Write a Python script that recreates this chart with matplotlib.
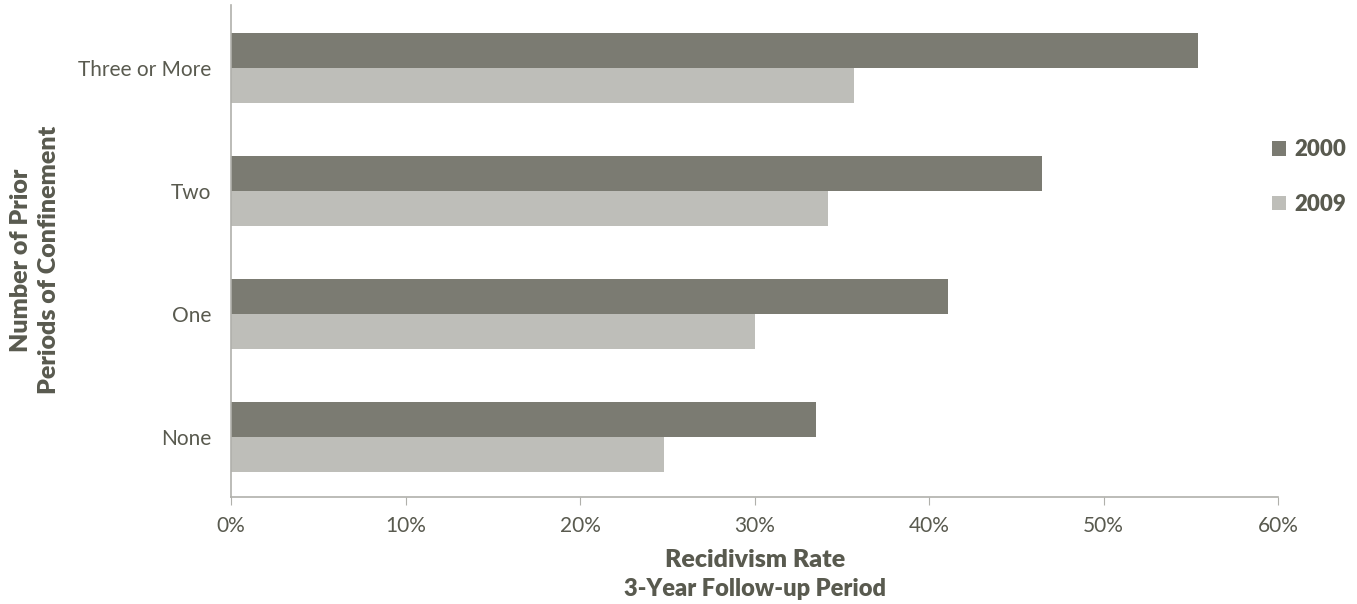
import matplotlib
matplotlib.use("Agg")
import matplotlib.pyplot as plt
import numpy as np
from matplotlib.ticker import FuncFormatter

categories = ["None", "One", "Two", "Three or More"]
series_names = ["2000", "2009"]
values_2000 = [33.5, 41.1, 46.5, 55.4]
values_2009 = [24.8, 30.0, 34.2, 35.7]
xticks = [0, 10, 20, 30, 40, 50, 60]

dark = "#7b7b72"
light = "#bebeb9"
text_color = "#595a4f"

plt.rcParams['font.family'] = ['Lato', 'DejaVu Sans']

fig = plt.figure(figsize=(13.57, 6.04), dpi=100)
ax = fig.add_axes([231/1357, 1 - 497/604, (1278 - 231)/1357, (497 - 5)/604])

y = np.arange(len(categories))
h = 0.285
ax.barh(y + h/2, values_2000, height=h, color=dark, label=series_names[0])
ax.barh(y - h/2, values_2009, height=h, color=light, label=series_names[1])

ax.set_xlim(0, 60)
ax.set_ylim(-0.49, 3.51)
ax.set_xticks(xticks)
ax.xaxis.set_major_formatter(FuncFormatter(lambda v, p: f"{int(v)}%"))
ax.set_yticks(y)
ax.set_yticklabels(categories)

for s in ["top", "right"]:
    ax.spines[s].set_visible(False)
for s in ["left", "bottom"]:
    ax.spines[s].set_color("#b0b0ab")
    ax.spines[s].set_linewidth(1.2)

ax.tick_params(axis="x", direction="out", length=6, color="#b0b0ab", labelsize=15,
               labelcolor=text_color, pad=8)
ax.tick_params(axis="y", length=0, labelsize=15, labelcolor=text_color, pad=14)

fig.text(755/1357, 1 - 560/604, "Recidivism Rate", ha="center", va="center",
         fontsize=18, fontweight="heavy", color=text_color)
fig.text(755/1357, 1 - 589/604, "3-Year Follow-up Period", ha="center", va="center",
         fontsize=17, fontweight="heavy", color=text_color)
fig.text(35/1357, 1 - 260/604, "Number of Prior\nPeriods of Confinement", ha="center", va="center",
         rotation=90, fontsize=18, fontweight="heavy", color=text_color, linespacing=1.3)

leg = ax.legend(loc="center left", bbox_to_anchor=(1268/1357, 1 - 177/604),
                bbox_transform=fig.transFigure, frameon=False, fontsize=16,
                borderpad=0.2, borderaxespad=0,
                handlelength=0.6, handleheight=0.6, handletextpad=0.4, labelspacing=1.5)
for t in leg.get_texts():
    t.set_color(text_color)
    t.set_fontweight("heavy")

fig.savefig("out.png", dpi=100)
